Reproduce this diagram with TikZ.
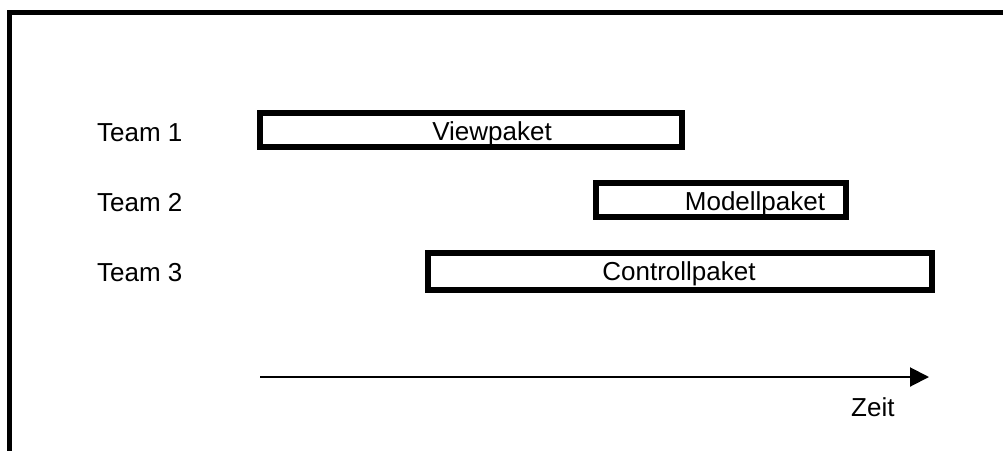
\documentclass[tikz,border=0pt]{standalone}
\usepackage{fontspec}
\setmainfont{Liberation Sans}
\usetikzlibrary{arrows.meta}
\begin{document}
\begin{tikzpicture}[x=1pt,y=-1pt,
  lbl/.style={inner sep=0pt,anchor=base,font=\fontsize{26}{31}\selectfont},
  pkg/.style={draw=black,line width=6pt,inner sep=0pt,fill=white},
  frameline/.style={line width=5pt,line cap=rect}]
\useasboundingbox (0,0) rectangle (1003,450);
% frame
\coordinate (fbl) at (9.5,452);
\coordinate (ftl) at (9.5,12.5);
\coordinate (ftr) at (1006,12.5);
\draw[frameline] (fbl) -- (ftl) -- (ftr);
% team labels
\node[lbl,anchor=base west] (t1) at (97,141) {Team 1};
\node[lbl,anchor=base west] (t2) at (97,211) {Team 2};
\node[lbl,anchor=base west] (t3) at (97,281) {Team 3};
% package boxes
\node[pkg,minimum width=422pt,minimum height=34pt] (view) at (471,130) {};
\node[pkg,minimum width=250pt,minimum height=34pt] (model) at (721,200) {};
\node[pkg,minimum width=504pt,minimum height=37pt] (ctrl) at (680,271.5) {};
\node[lbl] (viewt) at (492,140) {Viewpaket};
\node[lbl] (modelt) at (755,210) {Modellpaket};
\node[lbl] (ctrlt) at (679,280) {Controllpaket};
% time axis
\coordinate (a0) at (260,377);
\coordinate (a1) at (929,377);
\draw[line width=2pt,-{Triangle[length=19pt,width=19pt]}] (a0) -- (a1);
\node[lbl,anchor=base west] (zeit) at (851,416) {Zeit};
\end{tikzpicture}
\end{document}
